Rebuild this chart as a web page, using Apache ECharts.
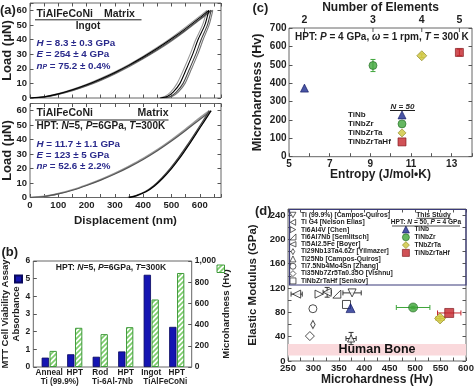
<!DOCTYPE html>
<html>
<head>
<meta charset="utf-8">
<title>Chart</title>
<script src="https://cdn.jsdelivr.net/npm/echarts@6.0.0/dist/echarts.min.js"></script>
<style>
html,body{margin:0;padding:0;background:#fff;}
#chart{width:474px;height:387px;}
</style>
</head>
<body>
<div id="chart"></div>
<script>
// ================= DATA =================
// (a) load–displacement curves: [displacement (nm), load (µN)]
const ingotLoad1 = [[0,0],[50,0.8],[100,2.8],[150,5.6],[200,9],[250,13],[300,17.5],[350,22.5],[400,28],[450,34],[500,40.5],[550,47.5],[600,55],[632,60]];
const ingotUnload1 = [[632,60],[618,50],[594,40],[575,30],[553,20],[530,10],[506,4],[485,1],[460,0]];
const ingotLoad2 = [[0,0],[50,0.7],[100,2.6],[150,5.3],[200,8.6],[250,12.5],[300,17],[350,22],[400,27.3],[450,33.2],[500,39.6],[550,46.5],[600,54],[640,60]];
const ingotUnload2 = [[640,60],[627,50],[605,40],[586,30],[564,20],[541,10],[517,4],[496,1],[472,0]];
const ingotLoad3 = [[0,0],[50,0.9],[100,3],[150,5.9],[200,9.4],[250,13.5],[300,18],[350,23],[400,28.6],[450,34.7],[500,41.3],[550,48.5],[600,56],[625,60]];
const ingotUnload3 = [[625,60],[610,50],[586,40],[566,30],[544,20],[520,10],[497,4],[476,1],[452,0]];
const ingotLoad4 = [[0,0],[50,0.6],[100,2.4],[150,5],[200,8.2],[250,12],[300,16.5],[350,21.4],[400,26.8],[450,32.6],[500,39],[550,46],[600,53.5],[646,60]];
const ingotUnload4 = [[646,60],[633,50],[612,40],[593,30],[571,20],[548,10],[524,4],[502,1],[480,0]];
const hptLoad1 = [[0,0],[50,0.7],[100,2.5],[150,5],[200,8.3],[250,12],[300,16.2],[350,21],[400,26.3],[450,32.3],[500,39],[550,46.3],[600,54],[640,60]];
const hptUnload1 = [[640,60],[615,52.5],[590,45],[560,36],[530,27.5],[500,20],[470,13.5],[440,8],[410,4],[380,1.5],[350,0]];
const hptLoad2 = [[0,0],[50,0.8],[100,2.7],[150,5.3],[200,8.7],[250,12.5],[300,16.8],[350,21.7],[400,27],[450,33],[500,39.8],[550,47.2],[600,55],[634,60]];
const hptUnload2 = [[634,60],[609,52.2],[584,44.6],[555,36],[525,27.6],[495,20],[466,13.6],[436,8],[406,4],[376,1.5],[346,0]];

// (b) MTT absorbance and microhardness
const bCategories = ['Anneal', 'HPT', 'Rod', 'HPT', 'Ingot', 'HPT'];
const bAlloys = ['Ti (99.9%)', 'Ti-6Al-7Nb', 'TiAlFeCoNi'];
const bAbsorbance = [0.53, 0.72, 0.58, 0.88, 5.22, 2.27];
const bHardness = [152, 370, 310, 376, 637, 887];

// (c) microhardness vs entropy
const cNames = ['TiNb', 'TiNbZr', 'TiNbZrTa', 'TiNbZrTaHf'];
const cEntropy = [5.76, 9.13, 11.53, 13.38];
const cHardness = [373, 496, 549, 567];
const cHardnessErr = [0, 33, 10, 18];
const elementTickPos = [5.76, 9.13, 11.53, 13.38];
const elementTickLabels = ['2', '3', '4', '5'];

// (d) elastic modulus vs microhardness
const litNames = ['Ti (99.9%) [Campos-Quiros]', 'Ti G4 [Nelson Elias]', 'Ti6Al4V [Chen]', 'Ti6Al7Nb [Semlitsch]', 'Ti5Al2.5Fe [Boyer]', 'Ti29Nb13Ta4.6Zr [Yilmazer]', 'Ti25Nb [Campos-Quiros]', 'Ti7.5Nb4Mo4Sn [Zhang]', 'Ti35Nb7Zr5Ta0.35O [Vishnu]', 'TiNbZrTaHf [Senkov]'];
const litHardness = [376, 267, 311, 346, 327, 299, 374, 299, 293, 365];
const litModulus = [112, 110, 110, 110, 113, 60, 37, 86, 41, 93];
const litHardnessErr = [18, 11, 0, 0, 8, 0, 10, 0, 0, 0];
const litModulusErr = [0, 0, 0, 0, 8, 0, 10, 0, 0, 0];
const studyNames = ['TiNb', 'TiNbZr', 'TNbZrTa', 'TiNbZrTaHf'];
const studyHardness = [373, 496, 549, 567];
const studyModulus = [87, 88, 70, 79];
const studyHardnessErr = [0, 33, 8, 23];
const studyModulusErr = [0, 2, 3, 0];
const boneRange = [9, 28];

// ================= STYLE =================
const FONT = '"Liberation Sans", Arial, Helvetica, sans-serif';
const INK = '#1e1e1e';
const NAVY = '#2a2a8c';
const studyColors = ['#1c2a8e', '#3ea53a', '#cdc43a', '#c4262c'];
const studyBorders = ['#0e1560', '#236b22', '#8a8420', '#7a1216'];
const studySymbols = ['triangle', 'circle', 'diamond', 'rect'];
const studySizes = [8, 8, 10, 8];
const litSymbols = [
  'path://M0,0L10,0L5,9Z',
  'path://M10,0L10,10L1,5Z',
  'path://M0,0L0,10L9,5Z',
  'path://M0,10L10,0L10,10Z',
  'path://M9,1L9,9L0,5Z',
  'path://M3,0L6,5L3,10L0,5Z',
  'triangle',
  'circle',
  'diamond',
  'rect'
];
const litSizes = [8, 8, 8, 8, 8, [4.5, 8], 7, 8, 9, 8];

function makeHatch() {
  const c = document.createElement('canvas');
  c.width = 5; c.height = 5;
  const g = c.getContext('2d');
  g.fillStyle = '#ffffff'; g.fillRect(0, 0, 5, 5);
  g.strokeStyle = '#7fcf6e'; g.lineWidth = 1.7;
  g.beginPath();
  g.moveTo(-1, 6); g.lineTo(6, -1);
  g.moveTo(-1, 1); g.lineTo(1, -1);
  g.moveTo(4, 6); g.lineTo(6, 4);
  g.stroke();
  return c;
}
const hatch = {image: makeHatch(), repeat: 'repeat'};

const nameStyle = (size) => ({fontSize: size, fontWeight: 'bold', fontFamily: FONT, color: INK});
const labelStyle = (size, margin, formatter) => {
  const o = {show: true, fontSize: size, fontWeight: 'bold', fontFamily: FONT, color: INK, margin: margin};
  if (formatter) o.formatter = formatter;
  return o;
};
function valueAxis(o) {
  return Object.assign({
    type: 'value',
    axisLine: {show: false, onZero: false},
    splitLine: {show: false},
    axisTick: {show: true, inside: true, length: 3.5, lineStyle: {color: '#555', width: 1}},
    axisLabel: {show: false},
    nameMoveOverlap: false,
    silent: true
  }, o);
}

const grids = [
  {left: 30, top: 3, width: 191, height: 95},
  {left: 30, top: 103.5, width: 191, height: 94},
  {left: 33.3, top: 261, width: 158.4, height: 106},
  {left: 289, top: 28, width: 183, height: 128.7},
  {left: 288, top: 209, width: 178, height: 152},
  {left: 36.5, top: 261, width: 153, height: 106, show: false}
].map(g => Object.assign({show: true, borderColor: '#666', borderWidth: 1, backgroundColor: 'transparent', containLabel: false, outerBoundsMode: 'none'}, g));

const xAxes = [
  valueAxis({gridIndex: 0, position: 'bottom', min: 0, max: 675, interval: 50}),
  valueAxis({gridIndex: 0, position: 'top', min: 0, max: 675, interval: 50}),
  valueAxis({gridIndex: 1, position: 'bottom', min: 0, max: 675, interval: 50,
    axisLabel: labelStyle(9.5, 3, v => v % 100 === 0 ? String(v) : ''),
    name: 'Displacement (nm)', nameLocation: 'middle', nameGap: 17, nameTextStyle: nameStyle(11.5)}),
  valueAxis({gridIndex: 1, position: 'top', min: 0, max: 675, interval: 50}),
  {type: 'category', gridIndex: 5, position: 'bottom', data: bCategories,
    axisLine: {show: false, onZero: false}, axisTick: {show: false}, splitLine: {show: false},
    axisLabel: Object.assign(labelStyle(8.2, 1.5), {interval: 0})},
  {type: 'category', gridIndex: 2, position: 'bottom', offset: 9.3, data: bAlloys,
    axisLine: {show: false, onZero: false}, axisTick: {show: false}, splitLine: {show: false},
    axisLabel: Object.assign(labelStyle(8.2, 1.5), {interval: 0})},
  valueAxis({gridIndex: 3, position: 'bottom', min: 5, max: 14, interval: 1,
    axisLabel: labelStyle(10, 3, v => v % 2 === 1 ? String(v) : ''),
    name: 'Entropy (J/mol•K)', nameLocation: 'middle', nameGap: 12, nameTextStyle: nameStyle(12)}),
  valueAxis({gridIndex: 3, position: 'top', min: 5, max: 14, axisTick: {show: false},
    name: 'Number of Elements', nameLocation: 'middle', nameGap: 14.5, nameTextStyle: nameStyle(12)}),
  valueAxis({gridIndex: 4, position: 'bottom', min: 250, max: 600, interval: 25,
    axisLabel: labelStyle(9.5, 2.5, v => v % 50 === 0 ? String(v) : ''),
    name: 'Microhardness (Hv)', nameLocation: 'middle', nameGap: 13, nameTextStyle: nameStyle(12)}),
  valueAxis({gridIndex: 4, position: 'top', min: 250, max: 600, interval: 25})
];

const yAxes = [
  valueAxis({gridIndex: 0, position: 'left', min: 0, max: 65, interval: 10,
    axisLabel: labelStyle(9.5, 3, v => v <= 60 ? String(v) : ''),
    name: 'Load (μN)', nameLocation: 'middle', nameRotate: 90, nameGap: 16, nameTextStyle: nameStyle(13)}),
  valueAxis({gridIndex: 0, position: 'right', min: 0, max: 65, interval: 10}),
  valueAxis({gridIndex: 1, position: 'left', min: 0, max: 65, interval: 10,
    axisLabel: labelStyle(9.5, 3, v => v <= 60 ? String(v) : ''),
    name: 'Load (μN)', nameLocation: 'middle', nameRotate: 90, nameGap: 16, nameTextStyle: nameStyle(13)}),
  valueAxis({gridIndex: 1, position: 'right', min: 0, max: 65, interval: 10}),
  valueAxis({gridIndex: 2, position: 'left', min: 0, max: 6, interval: 1,
    axisLabel: labelStyle(8.5, 3),
    name: 'MTT Cell Viability Assay\nAbsorbance', nameLocation: 'middle', nameRotate: 90, nameGap: 11,
    nameTextStyle: Object.assign(nameStyle(9.5), {lineHeight: 11.5})}),
  valueAxis({gridIndex: 2, position: 'right', min: 0, max: 1000, interval: 200,
    axisLabel: labelStyle(8.5, 3),
    name: 'Microhardness (Hv)', nameLocation: 'middle', nameRotate: 90, nameGap: 30, nameTextStyle: nameStyle(9.6)}),
  valueAxis({gridIndex: 3, position: 'left', min: 0, max: 700, interval: 100,
    axisLabel: labelStyle(10, 2.5),
    name: 'Microhardness (Hv)', nameLocation: 'middle', nameRotate: 90, nameGap: 24.5, nameTextStyle: nameStyle(12.6)}),
  valueAxis({gridIndex: 3, position: 'right', min: 0, max: 700, interval: 100}),
  valueAxis({gridIndex: 4, position: 'left', min: 0, max: 250, interval: 20,
    axisLabel: labelStyle(9.5, 2.5, v => (v % 40 === 0 && v <= 240) ? String(v) : ''),
    name: 'Elastic Modulus (GPa)', nameLocation: 'middle', nameRotate: 90, nameGap: 29, nameTextStyle: nameStyle(11.5)}),
  valueAxis({gridIndex: 4, position: 'right', min: 0, max: 250, interval: 20}),
  {type: 'value', gridIndex: 5, min: 0, max: 6, show: false},
  {type: 'value', gridIndex: 5, min: 0, max: 1000, show: false}
];

// ================= SERIES =================
function curve(data, xi, yi, color, width) {
  return {type: 'line', xAxisIndex: xi, yAxisIndex: yi, data: data, showSymbol: false, symbol: 'none',
    smooth: 0.25, lineStyle: {color: color, width: width}, silent: true, z: 3};
}
function errorBars(xi, yi, rows, colors) {
  return {
    type: 'custom', xAxisIndex: xi, yAxisIndex: yi, clip: false, silent: true, z: 3, data: rows,
    renderItem: function (params, api) {
      const x = api.value(0), y = api.value(1), ex = api.value(2), ey = api.value(3);
      const c = colors[params.dataIndex];
      const cap = 2.5;
      const seg = (x1, y1, x2, y2) => ({type: 'line', shape: {x1, y1, x2, y2}, style: {stroke: c, lineWidth: 1}});
      const ch = [];
      if (ex > 0) {
        const a = api.coord([x - ex, y]), b = api.coord([x + ex, y]);
        ch.push(seg(a[0], a[1], b[0], b[1]), seg(a[0], a[1] - cap, a[0], a[1] + cap), seg(b[0], b[1] - cap, b[0], b[1] + cap));
      }
      if (ey > 0) {
        const a = api.coord([x, y - ey]), b = api.coord([x, y + ey]);
        ch.push(seg(a[0], a[1], b[0], b[1]), seg(a[0] - cap, a[1], a[0] + cap, a[1]), seg(b[0] - cap, b[1], b[0] + cap, b[1]));
      }
      return {type: 'group', children: ch};
    }
  };
}

const series = [];
// (a) upper: ingot
[[ingotLoad3, ingotUnload3, '#999'], [ingotLoad4, ingotUnload4, '#777'], [ingotLoad2, ingotUnload2, '#444'], [ingotLoad1, ingotUnload1, '#000']]
  .forEach(([l, u, c]) => { series.push(curve(l, 0, 0, c, 1.1)); series.push(curve(u, 0, 0, c, 1.1)); });
// (a) lower: HPT
series.push(curve(hptLoad2, 2, 2, '#9a9a9a', 1.6));
series.push(curve(hptLoad1, 2, 2, '#555', 1.2));
series.push(curve(hptUnload2, 2, 2, '#444', 1.3));
series.push(curve(hptUnload1, 2, 2, '#000', 1.3));

// (b) bars
series.push({type: 'bar', name: 'Absorbance', xAxisIndex: 4, yAxisIndex: 10, data: bAbsorbance,
  barWidth: 7.3, barGap: '8%', silent: true,
  itemStyle: {color: '#1515b2', borderColor: '#08085e', borderWidth: 0.8}});
series.push({type: 'bar', name: 'Microhardness', xAxisIndex: 4, yAxisIndex: 11, data: bHardness,
  barWidth: 7.3, barGap: '8%', silent: true,
  itemStyle: {color: hatch, borderColor: '#3f9a3a', borderWidth: 1}});

// (c)
series.push(errorBars(6, 6, cEntropy.map((x, i) => [x, cHardness[i], 0, cHardnessErr[i]]), studyColors));
cNames.forEach((name, i) => {
  series.push({type: 'scatter', name: name, xAxisIndex: 6, yAxisIndex: 6, data: [[cEntropy[i], cHardness[i]]],
    symbol: studySymbols[i], symbolSize: studySizes[i], silent: true, z: 5,
    itemStyle: {color: studyColors[i], borderColor: studyBorders[i], borderWidth: 0.8}});
});
series.push({
  type: 'custom', xAxisIndex: 6, yAxisIndex: 6, clip: false, silent: true, z: 5,
  data: elementTickPos.map(x => [x, 700]),
  renderItem: function (params, api) {
    const p = api.coord([api.value(0), api.value(1)]);
    return {type: 'group', children: [
      {type: 'line', shape: {x1: p[0], y1: p[1], x2: p[0], y2: p[1] + 4}, style: {stroke: '#555', lineWidth: 1}},
      {type: 'text', x: p[0], y: p[1] - 2, style: {text: elementTickLabels[params.dataIndex], fill: INK,
        font: 'bold 10.5px ' + FONT, align: 'center', verticalAlign: 'bottom', textAlign: 'center', textVerticalAlign: 'bottom'}}
    ]};
  }
});

// (d)
series.push(errorBars(8, 8, litHardness.map((h, i) => [h, litModulus[i], litHardnessErr[i], litModulusErr[i]]), litHardness.map(() => '#333')));
series.push(errorBars(8, 8, studyHardness.map((h, i) => [h, studyModulus[i], studyHardnessErr[i], studyModulusErr[i]]), studyColors));
litNames.forEach((name, i) => {
  const s = {type: 'scatter', name: name, xAxisIndex: 8, yAxisIndex: 8, data: [[litHardness[i], litModulus[i]]],
    symbol: litSymbols[i], symbolSize: litSizes[i], silent: true, z: 5,
    itemStyle: {color: '#fff', borderColor: '#222', borderWidth: 1}};
  if (i === 0) {
    s.markArea = {silent: true, itemStyle: {color: '#fad9dc'},
      label: {show: true, position: 'inside', formatter: 'Human Bone', fontSize: 12.5, fontWeight: 'bold', fontFamily: FONT, color: '#111'},
      data: [[{yAxis: boneRange[0]}, {yAxis: boneRange[1]}]]};
  }
  series.push(s);
});
studyNames.forEach((name, i) => {
  series.push({type: 'scatter', name: name, xAxisIndex: 8, yAxisIndex: 8, data: [[studyHardness[i], studyModulus[i]]],
    symbol: studySymbols[i], symbolSize: studySizes[i] + 1, silent: true, z: 6,
    itemStyle: {color: studyColors[i], borderColor: studyBorders[i], borderWidth: 0.8}});
});

// ================= LEGENDS =================
const legendText = (size, lh) => ({fontSize: size, fontWeight: 'bold', fontFamily: FONT, color: INK, lineHeight: lh});
const legends = [
  {data: ['Absorbance'], left: 14, top: 274.5, icon: 'rect', itemWidth: 7, itemHeight: 7, padding: 0,
    selectedMode: false, formatter: () => '', textStyle: legendText(6, 7)},
  {data: ['Microhardness'], left: 216.5, top: 264.5, icon: 'rect', itemWidth: 7.5, itemHeight: 7.5, padding: 0,
    selectedMode: false, formatter: () => '', itemStyle: {borderWidth: 1}, textStyle: legendText(6, 7)},
  {data: cNames, left: 348, top: 110.5, orient: 'vertical', align: 'right', itemWidth: 8, itemHeight: 8, itemGap: 0.2,
    padding: 0, selectedMode: false, formatter: '{t|{name}}', itemStyle: {borderWidth: 0.8},
    textStyle: {rich: {t: {width: 45, align: 'left', fontSize: 8, fontWeight: 'bold', fontFamily: FONT, color: INK, lineHeight: 9}}}},
  {data: litNames, left: 289.5, top: 211.3, orient: 'vertical', itemWidth: 6, itemHeight: 6, itemGap: 0,
    padding: 0, selectedMode: false, itemStyle: {borderWidth: 0.9}, textStyle: legendText(6.8, 7.33)},
  {data: studyNames, left: 402, top: 225.6, orient: 'vertical', itemWidth: 7, itemHeight: 7, itemGap: 0,
    padding: 0, selectedMode: false, itemStyle: {borderWidth: 0.8}, textStyle: legendText(6.6, 7.4)}
];

// ================= ANNOTATIONS =================
function T(x, y, text, size, extra) {
  return {type: 'text', x: x, y: y, silent: true, z: 100,
    style: Object.assign({text: text, fill: INK, font: 'bold ' + size + 'px ' + FONT,
      align: 'left', verticalAlign: 'middle', textAlign: 'left', textVerticalAlign: 'middle'}, extra || {})};
}
function L(x1, y1, x2, y2, color, w) {
  return {type: 'line', silent: true, z: 100, shape: {x1, y1, x2, y2}, style: {stroke: color || INK, lineWidth: w || 1}};
}
const richFor = (size, color) => ({
  i: {fontStyle: 'italic', fontWeight: 'bold', fontSize: size, fontFamily: FONT, fill: color, color: color},
  s: {fontStyle: 'italic', fontWeight: 'bold', fontSize: size * 0.7, fontFamily: FONT, fill: color, color: color, verticalAlign: 'bottom'}
});
const navyLine = (x, y, text) => T(x, y, text, 9.8, {fill: NAVY, rich: richFor(9.8, NAVY)});

const graphics = [
  T(0, 10, '(a)', 13), T(1.5, 252, '(b)', 13), T(252.5, 8, '(c)', 13), T(255, 211, '(d)', 13),
  // (a) upper
  T(36.5, 13.8, 'TiAlFeCoNi', 10.5), T(104, 13.8, 'Matrix', 10.5), L(35, 19.8, 141.5, 19.8),
  T(88, 26.7, 'Ingot', 10, {align: 'center', textAlign: 'center'}),
  navyLine(36.5, 43.7, '{i|H} = 8.3 ± 0.3 GPa'),
  navyLine(36.5, 54.3, '{i|E} = 254 ± 4 GPa'),
  navyLine(36.5, 65.8, '{i|n}{s|P} = 75.2 ± 0.4%'),
  // (a) lower
  T(36.5, 113.3, 'TiAlFeCoNi', 10.5), T(168.5, 113.3, 'Matrix', 10.5, {align: 'right', textAlign: 'right'}), L(35, 120, 168.5, 120),
  T(36.5, 126, 'HPT: {i|N}=5, {i|P}=6GPa, {i|T}=300K', 10, {rich: richFor(10, INK)}),
  navyLine(36.5, 144.3, '{i|H} = 11.7 ± 1.1 GPa'),
  navyLine(36.5, 155, '{i|E} = 123 ± 5 GPa'),
  navyLine(36.5, 166, '{i|n}{s|P} = 52.6 ± 2.2%'),
  // (b)
  T(111, 267.7, 'HPT: {i|N}=5, {i|P}=6GPa, {i|T}=300K', 8.6, {align: 'center', textAlign: 'center', rich: richFor(8.6, INK)}),
  // (c)
  T(295, 37.3, 'HPT: {i|P} = 4 GPa, {i|ω} = 1 rpm, {i|T} = 300 K', 10, {rich: richFor(10, INK)}),
  T(402.5, 106.3, 'N = 50', 8, {align: 'center', textAlign: 'center', font: 'italic bold 8px ' + FONT}),
  L(390, 110.5, 415, 110.5),
  // (d) legend box & headers
  {type: 'rect', silent: true, z: 90, shape: {x: 289.5, y: 209.5, width: 176.5, height: 75.5}, style: {fill: 'none', stroke: '#3b3b7a', lineWidth: 1.2}},
  T(433.5, 214.8, 'This Study', 6.8, {align: 'center', textAlign: 'center'}),
  L(416.5, 218.3, 450.7, 218.3, INK, 0.8),
  T(426, 222.5, 'HPT: {i|N} = 50, {i|P} = 4 GPa', 6.6, {align: 'center', textAlign: 'center', rich: richFor(6.6, INK)}),
  L(392, 226, 460, 226, INK, 0.8)
];

const chart = echarts.init(document.getElementById('chart'), null, {renderer: 'canvas', devicePixelRatio: 1});
chart.setOption({
  animation: false,
  backgroundColor: '#ffffff',
  textStyle: {fontFamily: FONT},
  grid: grids,
  xAxis: xAxes,
  yAxis: yAxes,
  legend: legends,
  series: series,
  graphic: graphics
});
</script>
</body>
</html>
